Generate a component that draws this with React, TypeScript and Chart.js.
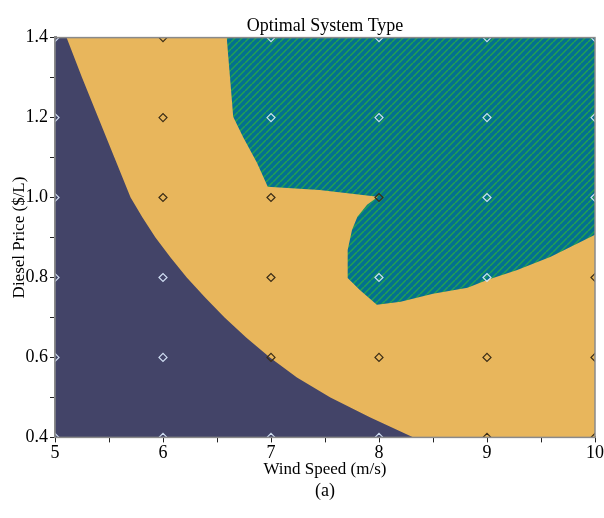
import React, { useEffect, useRef } from "react";
import { Chart, registerables } from "chart.js";

Chart.register(...registerables);

// Axis ranges and tick labels
const xTickLabels = ["5", "6", "7", "8", "9", "10"];
const yTickLabels = ["0.4", "0.6", "0.8", "1.0", "1.2", "1.4"];

// Boundary of the dark (left / low) system region: Wind Speed vs Diesel Price
const navyBoundaryX = [5, 5.107, 5.25, 5.4, 5.55, 5.7, 5.81, 5.93, 6.07, 6.22, 6.39, 6.57, 6.77, 6.99, 7.24, 7.55, 7.92, 8.32];
const navyBoundaryY = [1.4, 1.4, 1.3, 1.2, 1.1, 1.0, 0.95, 0.9, 0.85, 0.8, 0.75, 0.7, 0.65, 0.6, 0.55, 0.5, 0.45, 0.4];

// Boundary of the hatched (upper right) system region
const tealBoundaryX = [6.59, 6.63, 6.65, 6.74, 6.87, 6.97, 7.45, 7.99, 7.89, 7.8, 7.75, 7.71, 7.71, 7.82, 7.98, 8.2, 8.5, 8.82, 9.0, 9.28, 9.59, 10.0];
const tealBoundaryY = [1.4, 1.269, 1.202, 1.152, 1.087, 1.027, 1.019, 1.002, 0.982, 0.952, 0.919, 0.869, 0.799, 0.769, 0.732, 0.739, 0.759, 0.774, 0.794, 0.819, 0.852, 0.907];

// Simulation grid points and marker shade (L = light, D = dark)
const gridWind = [5, 6, 7, 8, 9, 10];
const gridDiesel = [1.4, 1.2, 1.0, 0.8, 0.6, 0.4];
const gridShade = [
  ["L", "D", "L", "L", "L", "L"],
  ["L", "D", "L", "L", "L", "L"],
  ["L", "D", "D", "D", "L", "L"],
  ["L", "L", "D", "L", "L", "D"],
  ["L", "L", "D", "D", "D", "D"],
  ["L", "L", "L", "L", "D", "D"],
];

const ORANGE = "#e8b65c";
const NAVY = "#434468";
const TEAL = "#03708f";
const STRIPE = "#22a052";
const FONT = "'Liberation Serif', 'DejaVu Serif', serif";

function makeHatch(): CanvasPattern | string {
  const c = document.createElement("canvas");
  const s = 7;
  c.width = s;
  c.height = s;
  const g = c.getContext("2d");
  if (!g) return TEAL;
  g.fillStyle = TEAL;
  g.fillRect(0, 0, s, s);
  g.strokeStyle = STRIPE;
  g.lineWidth = 1.5;
  for (const off of [-s, 0, s]) {
    g.beginPath();
    g.moveTo(off, s);
    g.lineTo(off + s, 0);
    g.stroke();
  }
  const p = g.createPattern(c, "repeat");
  return p || TEAL;
}

function pts(xs: number[], ys: number[]) {
  return xs.map((x, i) => ({ x, y: ys[i] }));
}

function gridPoints(shade: string) {
  const out: { x: number; y: number }[] = [];
  gridDiesel.forEach((y, r) => {
    gridWind.forEach((x, c) => {
      if (gridShade[r][c] === shade) out.push({ x, y });
    });
  });
  return out;
}

const backgroundPlugin = {
  id: "areaBackground",
  beforeDatasetsDraw(chart: any) {
    const { ctx, chartArea } = chart;
    ctx.save();
    ctx.fillStyle = ORANGE;
    ctx.fillRect(chartArea.left, chartArea.top, chartArea.right - chartArea.left, chartArea.bottom - chartArea.top);
    ctx.restore();
  },
  afterDatasetsDraw(chart: any) {
    const { ctx, chartArea } = chart;
    ctx.save();
    ctx.strokeStyle = "#8a8a8a";
    ctx.lineWidth = 1.5;
    ctx.strokeRect(chartArea.left, chartArea.top, chartArea.right - chartArea.left, chartArea.bottom - chartArea.top);
    ctx.restore();
  },
};

export default function App() {
  const ref = useRef<HTMLCanvasElement>(null);

  useEffect(() => {
    document.body.style.margin = "0";
    const canvas = ref.current;
    if (!canvas) return;
    const hatch = makeHatch();

    const chart = new Chart(canvas, {
      type: "line",
      data: {
        datasets: [
          {
            label: "light markers",
            data: gridPoints("L"),
            showLine: false,
            pointStyle: "rectRot",
            pointRadius: 4,
            pointBorderWidth: 1.2,
            pointBorderColor: "rgba(215,230,250,0.95)",
            pointBackgroundColor: "rgba(0,0,0,0)",
            clip: 0,
            order: 0,
          } as any,
          {
            label: "dark markers",
            data: gridPoints("D"),
            showLine: false,
            pointStyle: "rectRot",
            pointRadius: 4,
            pointBorderWidth: 1.2,
            pointBorderColor: "#3a2c16",
            pointBackgroundColor: "rgba(0,0,0,0)",
            clip: 0,
            order: 0,
          } as any,
          {
            label: "region A",
            data: pts(navyBoundaryX, navyBoundaryY),
            borderWidth: 0,
            borderColor: NAVY,
            backgroundColor: NAVY,
            pointRadius: 0,
            fill: "start",
            tension: 0,
            clip: 0,
            order: 1,
          } as any,
          {
            label: "region C",
            data: pts(tealBoundaryX, tealBoundaryY),
            borderWidth: 0,
            borderColor: TEAL,
            backgroundColor: hatch,
            pointRadius: 0,
            fill: "end",
            tension: 0,
            clip: 0,
            order: 1,
          } as any,
        ],
      },
      options: {
        responsive: false,
        animation: false,
        events: [],
        layout: { padding: { left: 0, right: 9, top: 0, bottom: 0 } },
        plugins: {
          legend: { display: false },
          tooltip: { enabled: false },
          title: {
            display: true,
            text: "Optimal System Type",
            color: "#000",
            fullSize: false,
            font: { family: FONT, size: 18, weight: "normal" },
            padding: { top: 15, bottom: 1 },
          },
          subtitle: {
            display: true,
            position: "bottom",
            text: "(a)",
            color: "#000",
            fullSize: false,
            font: { family: FONT, size: 18, weight: "normal" },
            padding: { top: 0, bottom: 16 },
          },
        },
        scales: {
          x: {
            type: "linear",
            min: 5,
            max: 10,
            z: 1,
            afterFit: (s: any) => {
              s.height = 43;
            },
            ticks: {
              stepSize: 0.5,
              color: "#000",
              padding: 0,
              maxRotation: 0,
              autoSkip: false,
              font: { family: FONT, size: 18 },
              callback: (v: any) => {
                const idx = Math.round((Number(v) - 5) * 2);
                return idx % 2 === 0 ? xTickLabels[idx / 2] : "";
              },
            },
            grid: { drawOnChartArea: false, drawTicks: true, tickLength: 5, tickColor: "#222" },
            border: { display: true, color: "#8a8a8a", width: 2 },
            title: {
              display: true,
              text: "Wind Speed (m/s)",
              color: "#000",
              font: { family: FONT, size: 17 },
              padding: { top: 0, bottom: 1 },
            },
          },
          y: {
            type: "linear",
            min: 0.4,
            max: 1.4,
            z: 1,
            afterFit: (s: any) => {
              s.width = 55;
            },
            ticks: {
              stepSize: 0.1,
              color: "#000",
              padding: 2,
              autoSkip: false,
              font: { family: FONT, size: 18 },
              callback: (v: any) => {
                const idx = Math.round((Number(v) - 0.4) * 10);
                return idx % 2 === 0 ? yTickLabels[idx / 2] : "";
              },
            },
            grid: { drawOnChartArea: false, drawTicks: true, tickLength: 5, tickColor: "#222" },
            border: { display: true, color: "#8a8a8a", width: 3 },
            title: {
              display: true,
              text: "Diesel Price ($/L)",
              color: "#000",
              font: { family: FONT, size: 17 },
              padding: { top: 9, bottom: 0 },
            },
          },
        },
      } as any,
      plugins: [backgroundPlugin],
    });

    return () => chart.destroy();
  }, []);

  return (
    <div style={{ width: 604, height: 518 }}>
      <canvas ref={ref} width={604} height={518} style={{ display: "block", width: 604, height: 518 }} />
    </div>
  );
}
